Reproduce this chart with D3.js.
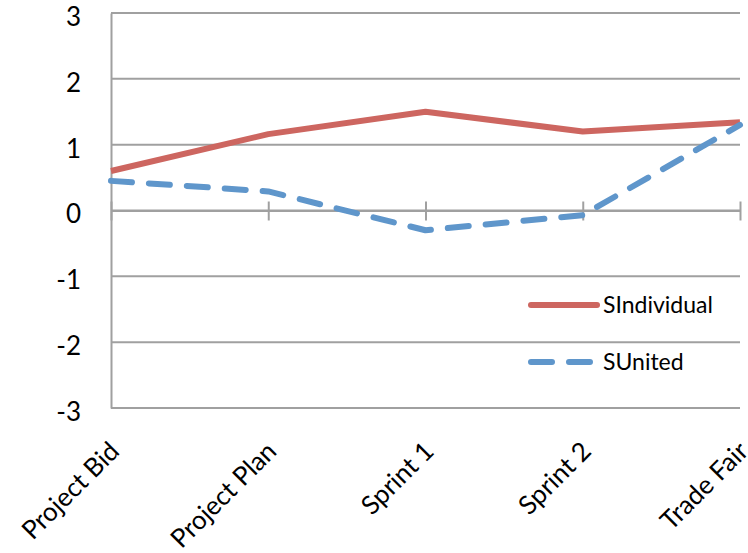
<!DOCTYPE html>
<html>
<head>
<meta charset="utf-8">
<script src="https://cdn.jsdelivr.net/npm/d3@7"></script>
<style>
  html, body { margin: 0; padding: 0; background: #fff; }
  svg text { font-family: Lato, "Open Sans", sans-serif; fill: #000; }
</style>
</head>
<body>
<svg id="chart" width="748" height="553"></svg>
<script>
// Phase categories and the two series plotted against them
const categories = ["Project Bid", "Project Plan", "Sprint 1", "Sprint 2", "Trade Fair"];
const sIndividual = [0.6, 1.16, 1.5, 1.2, 1.34];
const sUnited = [0.45, 0.29, -0.3, -0.07, 1.3];
const yTicks = [-3, -2, -1, 0, 1, 2, 3];
const seriesNames = ["SIndividual", "SUnited"];

const svg = d3.select("#chart");
const plot = { left: 111, right: 740, top: 13, bottom: 408 };
const gridColor = "#a0a0a0";
const redColor = "#cd6660";
const blueColor = "#5f96cb";
const dashPattern = "21,17";

const x = d3.scalePoint().domain(categories).range([plot.left, plot.right]);
const y = d3.scaleLinear().domain([-3, 3]).range([plot.bottom, plot.top]);

// Horizontal gridlines
svg.append("g")
  .selectAll("line")
  .data(yTicks)
  .join("line")
  .attr("x1", plot.left).attr("x2", plot.right)
  .attr("y1", d => y(d)).attr("y2", d => y(d))
  .attr("stroke", gridColor).attr("stroke-width", 2);

// Value axis with labels (plain hyphen for negatives)
const yAxis = svg.append("g")
  .attr("transform", `translate(${plot.left},0)`)
  .call(d3.axisLeft(y).tickValues(yTicks).tickSize(0).tickPadding(30).tickFormat(d => String(d)));
yAxis.select(".domain").attr("stroke", gridColor).attr("stroke-width", 2);
yAxis.selectAll("text").style("font-size", "26px").attr("dy", "0.48em");

// Category axis crossing at zero, with cross tick marks
const xAxis = svg.append("g")
  .attr("transform", `translate(0,${y(0)})`)
  .call(d3.axisBottom(x).tickSizeInner(10).tickSizeOuter(0).tickFormat(""));
xAxis.select(".domain").attr("stroke", gridColor).attr("stroke-width", 2);
xAxis.selectAll(".tick line")
  .attr("stroke", gridColor).attr("stroke-width", 2)
  .attr("y1", -9).attr("y2", 10);

// Rotated category labels below the plot
svg.append("g")
  .selectAll("text")
  .data(categories)
  .join("text")
  .attr("transform", d => `translate(${x(d) - 3},${plot.bottom + 32}) rotate(-45)`)
  .attr("text-anchor", "end")
  .attr("dy", "0.7em")
  .style("font-size", "26px")
  .text(d => d);

// Series lines
const line = d3.line()
  .x((d, i) => x(categories[i]))
  .y(d => y(d));

svg.append("path")
  .datum(sIndividual)
  .attr("d", line)
  .attr("fill", "none")
  .attr("stroke", redColor)
  .attr("stroke-width", 6)
  .attr("stroke-linejoin", "round");

svg.append("path")
  .datum(sUnited)
  .attr("d", line)
  .attr("fill", "none")
  .attr("stroke", blueColor)
  .attr("stroke-width", 6)
  .attr("stroke-linecap", "round")
  .attr("stroke-linejoin", "round")
  .attr("stroke-dasharray", dashPattern);

// Legend
const legend = svg.append("g");
const legendItems = [
  { name: seriesNames[0], color: redColor, dash: null, yPos: 305 },
  { name: seriesNames[1], color: blueColor, dash: dashPattern, yPos: 362 }
];
legendItems.forEach(item => {
  legend.append("line")
    .attr("x1", 531).attr("x2", 597)
    .attr("y1", item.yPos).attr("y2", item.yPos)
    .attr("stroke", item.color)
    .attr("stroke-width", 6)
    .attr("stroke-linecap", "round")
    .attr("stroke-dasharray", item.dash);
  legend.append("text")
    .attr("x", 603).attr("y", item.yPos)
    .attr("dy", "0.36em")
    .style("font-size", "23px")
    .text(item.name);
});
</script>
</body>
</html>
